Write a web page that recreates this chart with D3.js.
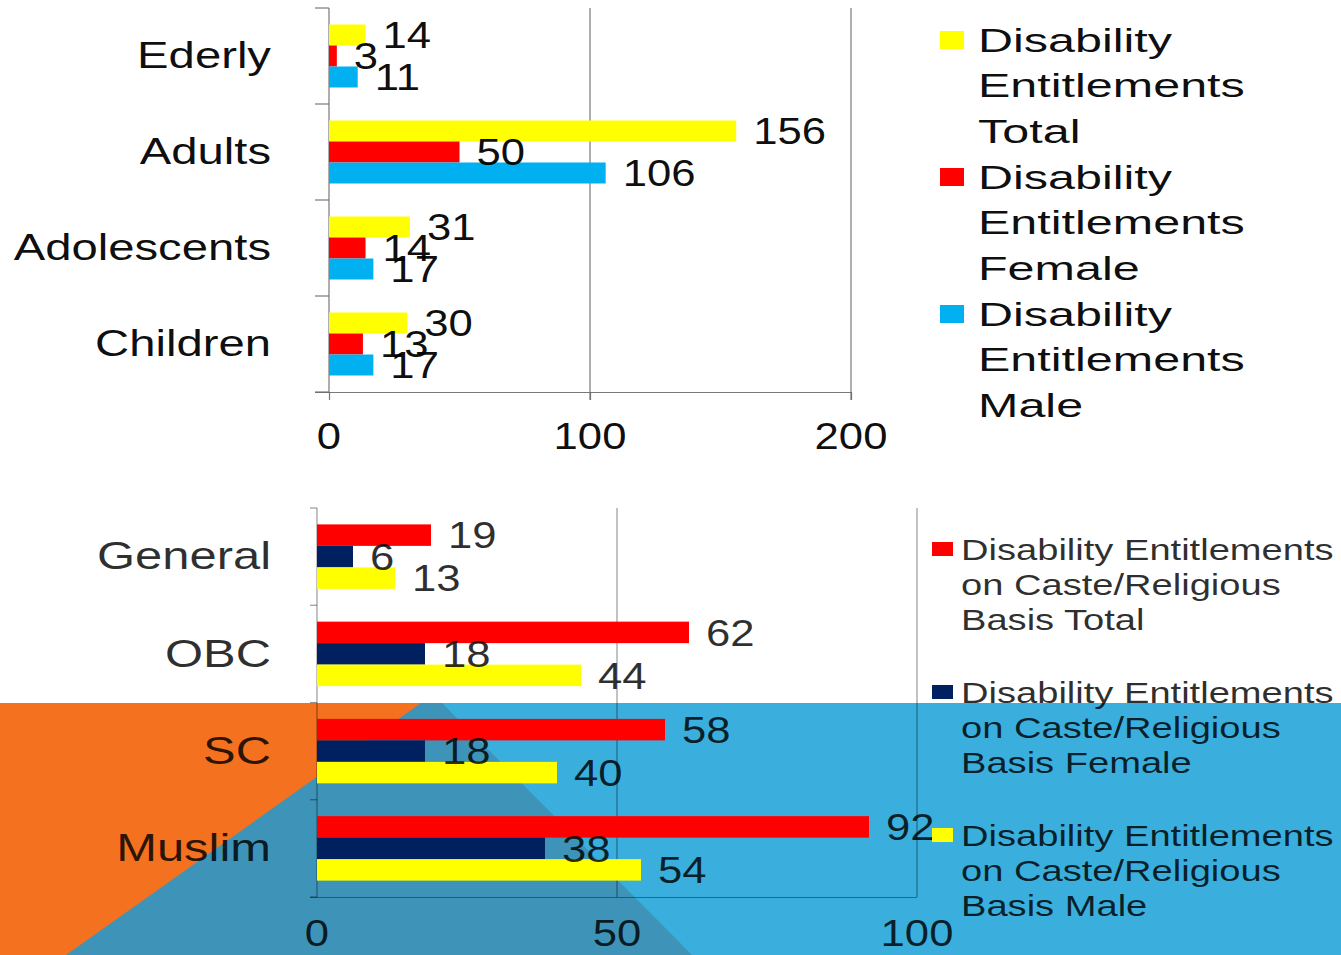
<!DOCTYPE html>
<html>
<head>
<meta charset="utf-8">
<script src="https://cdn.jsdelivr.net/npm/d3@7"></script>
<style>
  html, body { margin: 0; padding: 0; background: #fff; }
  svg { display: block; }
  text { font-family: "Liberation Sans", Arial, sans-serif; }
</style>
</head>
<body>
<svg id="chart" width="1341" height="955"></svg>
<script>
// ---------- DATA ----------
const topCategories = ["Ederly", "Adults", "Adolescents", "Children"];
const topTotal  = [14, 156, 31, 30];
const topFemale = [3, 50, 14, 13];
const topMale   = [11, 106, 17, 17];
const topTicks  = [0, 100, 200];
const topSeriesNames = ["Disability Entitlements Total", "Disability Entitlements Female", "Disability Entitlements Male"];
const topLegendLines = [
  ["Disability", "Entitlements", "Total"],
  ["Disability", "Entitlements", "Female"],
  ["Disability", "Entitlements", "Male"]
];

const botCategories = ["General", "OBC", "SC", "Muslim"];
const botTotal  = [19, 62, 58, 92];
const botFemale = [6, 18, 18, 38];
const botMale   = [13, 44, 40, 54];
const botTicks  = [0, 50, 100];
const botSeriesNames = ["Disability Entitlements on Caste/Religious Basis Total",
                        "Disability Entitlements on Caste/Religious Basis Female",
                        "Disability Entitlements on Caste/Religious Basis Male"];
const botLegendLines = [
  ["Disability Entitlements", "on Caste/Religious", "Basis Total"],
  ["Disability Entitlements", "on Caste/Religious", "Basis Female"],
  ["Disability Entitlements", "on Caste/Religious", "Basis Male"]
];

// ---------- STYLE ----------
const topColors = ["#FFFF00", "#FF0000", "#00B0F0"];
const botColors = ["#FF0000", "#002060", "#FFFF00"];

const svg = d3.select("#chart");

// ---------- BACKGROUND (slide) ----------
const bg = svg.append("g");
bg.append("rect").attr("x", 0).attr("y", 0).attr("width", 1341).attr("height", 955).attr("fill", "#ffffff");
bg.append("rect").attr("x", 0).attr("y", 703).attr("width", 1341).attr("height", 252).attr("fill", "#3AAFDD");
bg.append("path").attr("d", "M400,703 L442,703 L692,955 L0,955 Z").attr("fill", "#3D94B8");
bg.append("path").attr("d", "M0,703 L421,703 L66,955 L0,955 Z").attr("fill", "#F3711F");

// helper: stretched text
function sText(g, x, y, str, size, sx, anchor, fill, opacity) {
  return g.append("text")
    .attr("transform", `translate(${x},${y}) scale(${sx},1)`)
    .attr("text-anchor", anchor)
    .attr("font-size", size)
    .attr("fill", fill)
    .attr("fill-opacity", opacity)
    .text(str);
}

function drawChart(cfg) {
  const g = svg.append("g");
  const x = d3.scaleLinear().domain(cfg.domain).range([cfg.left, cfg.right]);
  const y = d3.scaleBand().domain(cfg.categories).range([cfg.top, cfg.bottom])
    .paddingInner(cfg.pad).paddingOuter(cfg.pad / 2);
  const ys = d3.scaleBand().domain(d3.range(cfg.series.length)).range([0, y.bandwidth()]);

  // gridlines
  g.append("g").selectAll("line").data(cfg.ticks.filter(t => t !== 0)).join("line")
    .attr("x1", d => x(d)).attr("x2", d => x(d))
    .attr("y1", cfg.top).attr("y2", cfg.bottom + cfg.xTick)
    .attr("stroke", cfg.gridColor).attr("stroke-opacity", cfg.gridOpacity).attr("stroke-width", 1.2);

  // bottom axis
  const xAxis = d3.axisBottom(x).tickValues(cfg.ticks).tickSize(cfg.xTick).tickSizeOuter(0).tickFormat(d3.format("d"));
  const ax = g.append("g").attr("transform", `translate(0,${cfg.bottom})`).call(xAxis);
  ax.select(".domain").attr("stroke", cfg.gridColor).attr("stroke-opacity", cfg.gridOpacity).attr("stroke-width", 1.2)
    .attr("d", `M${cfg.left - cfg.yTick},0.5H${cfg.right}`);
  ax.selectAll(".tick line").attr("stroke", cfg.gridColor).attr("stroke-opacity", cfg.gridOpacity).attr("stroke-width", 1.2);
  ax.selectAll(".tick text").remove();
  cfg.ticks.forEach(t => {
    sText(g, x(t), cfg.bottom + cfg.tickLabelDy, d3.format("d")(t), cfg.numSize, cfg.numSx, "middle", "#000", cfg.textOpacity);
  });

  // left axis line + ticks at category boundaries
  g.append("line").attr("x1", cfg.left).attr("x2", cfg.left).attr("y1", cfg.top).attr("y2", cfg.bottom)
    .attr("stroke", cfg.gridColor).attr("stroke-opacity", cfg.gridOpacity).attr("stroke-width", 1.2);
  const bounds = d3.range(cfg.categories.length + 1).map(i => y.range()[0] + i * y.step());
  g.append("g").selectAll("line").data(bounds).join("line")
    .attr("x1", cfg.left - cfg.yTick).attr("x2", cfg.left)
    .attr("y1", d => d).attr("y2", d => d)
    .attr("stroke", cfg.gridColor).attr("stroke-opacity", cfg.gridOpacity).attr("stroke-width", 1.2);

  // category labels
  cfg.categories.forEach(c => {
    sText(g, cfg.catX, y(c) + y.bandwidth() / 2 + cfg.catSize * 0.33, c, cfg.catSize, cfg.catSx, "end", "#000", cfg.textOpacity);
  });

  // bars
  cfg.series.forEach((vals, si) => {
    g.append("g").selectAll("rect").data(vals).join("rect")
      .attr("x", x(0))
      .attr("y", (d, i) => y(cfg.categories[i]) + ys(si))
      .attr("width", d => x(d) - x(0))
      .attr("height", ys.bandwidth())
      .attr("fill", cfg.colors[si]);
  });
  // value labels
  cfg.series.forEach((vals, si) => {
    vals.forEach((v, i) => {
      const cy = y(cfg.categories[i]) + ys(si) + ys.bandwidth() / 2;
      sText(g, x(v) + cfg.labelGap, cy + cfg.numSize * 0.36, String(v), cfg.numSize, cfg.numSx, "start", "#000", cfg.textOpacity);
    });
  });

  // legend
  const lg = g.append("g").attr("class", "legend");
  cfg.legendLines.forEach((lines, si) => {
    const y0 = cfg.legTop + si * cfg.legGroup;
    lg.append("rect").attr("x", cfg.legSwX).attr("y", y0 - cfg.legSwH / 2)
      .attr("width", cfg.legSwW).attr("height", cfg.legSwH).attr("fill", cfg.colors[si])
      .append("title").text(cfg.seriesNames[si]);
    lines.forEach((ln, li) => {
      sText(lg, cfg.legTextX, y0 + li * cfg.legLine + cfg.legSize * 0.36, ln, cfg.legSize, cfg.legSx, "start", "#000", cfg.textOpacity);
    });
  });
}

drawChart({
  categories: topCategories, series: [topTotal, topFemale, topMale], colors: topColors,
  seriesNames: topSeriesNames, legendLines: topLegendLines,
  domain: [0, 200], ticks: topTicks, left: 329, right: 851, top: 8, bottom: 392, pad: 0.344,
  xTick: 8, yTick: 14, tickLabelDy: 57, gridColor: "#6a6a6a", gridOpacity: 0.9, textOpacity: 0.95,
  catX: 271, catSize: 37.5, catSx: 1.26,
  numSize: 37, numSx: 1.18, labelGap: 17,
  legTop: 40, legGroup: 137, legLine: 45.5, legSwX: 940, legSwW: 24, legSwH: 18, legTextX: 978, legSize: 33, legSx: 1.47
});

drawChart({
  categories: botCategories, series: [botTotal, botFemale, botMale], colors: botColors,
  seriesNames: botSeriesNames, legendLines: botLegendLines,
  domain: [0, 100], ticks: botTicks, left: 317, right: 917, top: 508, bottom: 897, pad: 0.337,
  xTick: 0, yTick: 7, tickLabelDy: 49, gridColor: "#000", gridOpacity: 0.4, textOpacity: 0.82,
  catX: 271, catSize: 38.5, catSx: 1.27,
  numSize: 37, numSx: 1.18, labelGap: 17,
  legTop: 549, legGroup: 143, legLine: 35, legSwX: 932, legSwW: 21, legSwH: 14, legTextX: 961, legSize: 30, legSx: 1.27
});
</script>
</body>
</html>
